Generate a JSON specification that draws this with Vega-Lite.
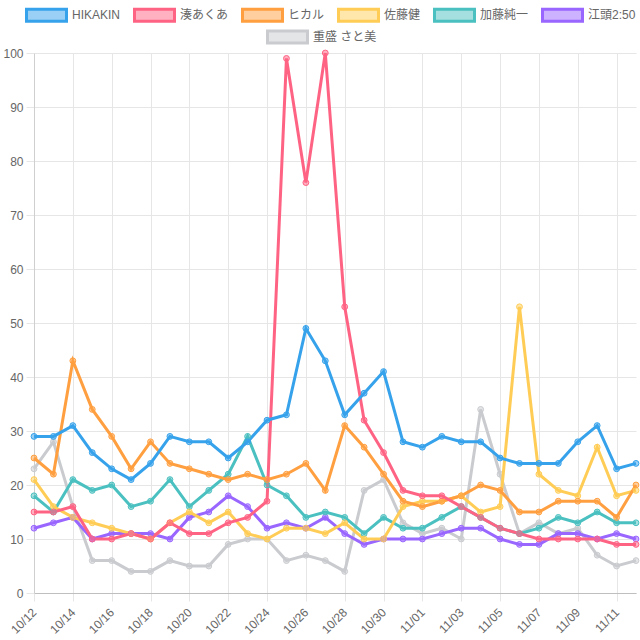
{
  "$schema": "https://vega.github.io/schema/vega-lite/v6.json",
  "width": 602,
  "height": 540,
  "autosize": {"type": "none"},
  "padding": {"left": 34, "top": 53, "right": 4, "bottom": 47},
  "background": "white",
  "data": {"values": [
    {"d":"10/12","n":"江頭2:50","v":12},{"d":"10/13","n":"江頭2:50","v":13},{"d":"10/14","n":"江頭2:50","v":14},{"d":"10/15","n":"江頭2:50","v":10},{"d":"10/16","n":"江頭2:50","v":11},{"d":"10/17","n":"江頭2:50","v":11},{"d":"10/18","n":"江頭2:50","v":11},{"d":"10/19","n":"江頭2:50","v":10},{"d":"10/20","n":"江頭2:50","v":14},{"d":"10/21","n":"江頭2:50","v":15},{"d":"10/22","n":"江頭2:50","v":18},{"d":"10/23","n":"江頭2:50","v":16},{"d":"10/24","n":"江頭2:50","v":12},{"d":"10/25","n":"江頭2:50","v":13},{"d":"10/26","n":"江頭2:50","v":12},{"d":"10/27","n":"江頭2:50","v":14},{"d":"10/28","n":"江頭2:50","v":11},{"d":"10/29","n":"江頭2:50","v":9},{"d":"10/30","n":"江頭2:50","v":10},{"d":"10/31","n":"江頭2:50","v":10},{"d":"11/01","n":"江頭2:50","v":10},{"d":"11/02","n":"江頭2:50","v":11},{"d":"11/03","n":"江頭2:50","v":12},{"d":"11/04","n":"江頭2:50","v":12},{"d":"11/05","n":"江頭2:50","v":10},{"d":"11/06","n":"江頭2:50","v":9},{"d":"11/07","n":"江頭2:50","v":9},{"d":"11/08","n":"江頭2:50","v":11},{"d":"11/09","n":"江頭2:50","v":11},{"d":"11/10","n":"江頭2:50","v":10},{"d":"11/11","n":"江頭2:50","v":11},{"d":"11/12","n":"江頭2:50","v":10},
    {"d":"10/12","n":"加藤純一","v":18},{"d":"10/13","n":"加藤純一","v":15},{"d":"10/14","n":"加藤純一","v":21},{"d":"10/15","n":"加藤純一","v":19},{"d":"10/16","n":"加藤純一","v":20},{"d":"10/17","n":"加藤純一","v":16},{"d":"10/18","n":"加藤純一","v":17},{"d":"10/19","n":"加藤純一","v":21},{"d":"10/20","n":"加藤純一","v":16},{"d":"10/21","n":"加藤純一","v":19},{"d":"10/22","n":"加藤純一","v":22},{"d":"10/23","n":"加藤純一","v":29},{"d":"10/24","n":"加藤純一","v":20},{"d":"10/25","n":"加藤純一","v":18},{"d":"10/26","n":"加藤純一","v":14},{"d":"10/27","n":"加藤純一","v":15},{"d":"10/28","n":"加藤純一","v":14},{"d":"10/29","n":"加藤純一","v":11},{"d":"10/30","n":"加藤純一","v":14},{"d":"10/31","n":"加藤純一","v":12},{"d":"11/01","n":"加藤純一","v":12},{"d":"11/02","n":"加藤純一","v":14},{"d":"11/03","n":"加藤純一","v":16},{"d":"11/04","n":"加藤純一","v":14},{"d":"11/05","n":"加藤純一","v":12},{"d":"11/06","n":"加藤純一","v":11},{"d":"11/07","n":"加藤純一","v":12},{"d":"11/08","n":"加藤純一","v":14},{"d":"11/09","n":"加藤純一","v":13},{"d":"11/10","n":"加藤純一","v":15},{"d":"11/11","n":"加藤純一","v":13},{"d":"11/12","n":"加藤純一","v":13},
    {"d":"10/12","n":"佐藤健","v":21},{"d":"10/13","n":"佐藤健","v":16},{"d":"10/14","n":"佐藤健","v":14},{"d":"10/15","n":"佐藤健","v":13},{"d":"10/16","n":"佐藤健","v":12},{"d":"10/17","n":"佐藤健","v":11},{"d":"10/18","n":"佐藤健","v":10},{"d":"10/19","n":"佐藤健","v":13},{"d":"10/20","n":"佐藤健","v":15},{"d":"10/21","n":"佐藤健","v":13},{"d":"10/22","n":"佐藤健","v":15},{"d":"10/23","n":"佐藤健","v":11},{"d":"10/24","n":"佐藤健","v":10},{"d":"10/25","n":"佐藤健","v":12},{"d":"10/26","n":"佐藤健","v":12},{"d":"10/27","n":"佐藤健","v":11},{"d":"10/28","n":"佐藤健","v":13},{"d":"10/29","n":"佐藤健","v":10},{"d":"10/30","n":"佐藤健","v":10},{"d":"10/31","n":"佐藤健","v":16},{"d":"11/01","n":"佐藤健","v":17},{"d":"11/02","n":"佐藤健","v":17},{"d":"11/03","n":"佐藤健","v":18},{"d":"11/04","n":"佐藤健","v":15},{"d":"11/05","n":"佐藤健","v":16},{"d":"11/06","n":"佐藤健","v":53},{"d":"11/07","n":"佐藤健","v":22},{"d":"11/08","n":"佐藤健","v":19},{"d":"11/09","n":"佐藤健","v":18},{"d":"11/10","n":"佐藤健","v":27},{"d":"11/11","n":"佐藤健","v":18},{"d":"11/12","n":"佐藤健","v":19},
    {"d":"10/12","n":"ヒカル","v":25},{"d":"10/13","n":"ヒカル","v":22},{"d":"10/14","n":"ヒカル","v":43},{"d":"10/15","n":"ヒカル","v":34},{"d":"10/16","n":"ヒカル","v":29},{"d":"10/17","n":"ヒカル","v":23},{"d":"10/18","n":"ヒカル","v":28},{"d":"10/19","n":"ヒカル","v":24},{"d":"10/20","n":"ヒカル","v":23},{"d":"10/21","n":"ヒカル","v":22},{"d":"10/22","n":"ヒカル","v":21},{"d":"10/23","n":"ヒカル","v":22},{"d":"10/24","n":"ヒカル","v":21},{"d":"10/25","n":"ヒカル","v":22},{"d":"10/26","n":"ヒカル","v":24},{"d":"10/27","n":"ヒカル","v":19},{"d":"10/28","n":"ヒカル","v":31},{"d":"10/29","n":"ヒカル","v":27},{"d":"10/30","n":"ヒカル","v":22},{"d":"10/31","n":"ヒカル","v":17},{"d":"11/01","n":"ヒカル","v":16},{"d":"11/02","n":"ヒカル","v":17},{"d":"11/03","n":"ヒカル","v":18},{"d":"11/04","n":"ヒカル","v":20},{"d":"11/05","n":"ヒカル","v":19},{"d":"11/06","n":"ヒカル","v":15},{"d":"11/07","n":"ヒカル","v":15},{"d":"11/08","n":"ヒカル","v":17},{"d":"11/09","n":"ヒカル","v":17},{"d":"11/10","n":"ヒカル","v":17},{"d":"11/11","n":"ヒカル","v":14},{"d":"11/12","n":"ヒカル","v":20},
    {"d":"10/12","n":"湊あくあ","v":15},{"d":"10/13","n":"湊あくあ","v":15},{"d":"10/14","n":"湊あくあ","v":16},{"d":"10/15","n":"湊あくあ","v":10},{"d":"10/16","n":"湊あくあ","v":10},{"d":"10/17","n":"湊あくあ","v":11},{"d":"10/18","n":"湊あくあ","v":10},{"d":"10/19","n":"湊あくあ","v":13},{"d":"10/20","n":"湊あくあ","v":11},{"d":"10/21","n":"湊あくあ","v":11},{"d":"10/22","n":"湊あくあ","v":13},{"d":"10/23","n":"湊あくあ","v":14},{"d":"10/24","n":"湊あくあ","v":17},{"d":"10/25","n":"湊あくあ","v":99},{"d":"10/26","n":"湊あくあ","v":76},{"d":"10/27","n":"湊あくあ","v":100},{"d":"10/28","n":"湊あくあ","v":53},{"d":"10/29","n":"湊あくあ","v":32},{"d":"10/30","n":"湊あくあ","v":26},{"d":"10/31","n":"湊あくあ","v":19},{"d":"11/01","n":"湊あくあ","v":18},{"d":"11/02","n":"湊あくあ","v":18},{"d":"11/03","n":"湊あくあ","v":16},{"d":"11/04","n":"湊あくあ","v":14},{"d":"11/05","n":"湊あくあ","v":12},{"d":"11/06","n":"湊あくあ","v":11},{"d":"11/07","n":"湊あくあ","v":10},{"d":"11/08","n":"湊あくあ","v":10},{"d":"11/09","n":"湊あくあ","v":10},{"d":"11/10","n":"湊あくあ","v":10},{"d":"11/11","n":"湊あくあ","v":9},{"d":"11/12","n":"湊あくあ","v":9},
    {"d":"10/12","n":"HIKAKIN","v":29},{"d":"10/13","n":"HIKAKIN","v":29},{"d":"10/14","n":"HIKAKIN","v":31},{"d":"10/15","n":"HIKAKIN","v":26},{"d":"10/16","n":"HIKAKIN","v":23},{"d":"10/17","n":"HIKAKIN","v":21},{"d":"10/18","n":"HIKAKIN","v":24},{"d":"10/19","n":"HIKAKIN","v":29},{"d":"10/20","n":"HIKAKIN","v":28},{"d":"10/21","n":"HIKAKIN","v":28},{"d":"10/22","n":"HIKAKIN","v":25},{"d":"10/23","n":"HIKAKIN","v":28},{"d":"10/24","n":"HIKAKIN","v":32},{"d":"10/25","n":"HIKAKIN","v":33},{"d":"10/26","n":"HIKAKIN","v":49},{"d":"10/27","n":"HIKAKIN","v":43},{"d":"10/28","n":"HIKAKIN","v":33},{"d":"10/29","n":"HIKAKIN","v":37},{"d":"10/30","n":"HIKAKIN","v":41},{"d":"10/31","n":"HIKAKIN","v":28},{"d":"11/01","n":"HIKAKIN","v":27},{"d":"11/02","n":"HIKAKIN","v":29},{"d":"11/03","n":"HIKAKIN","v":28},{"d":"11/04","n":"HIKAKIN","v":28},{"d":"11/05","n":"HIKAKIN","v":25},{"d":"11/06","n":"HIKAKIN","v":24},{"d":"11/07","n":"HIKAKIN","v":24},{"d":"11/08","n":"HIKAKIN","v":24},{"d":"11/09","n":"HIKAKIN","v":28},{"d":"11/10","n":"HIKAKIN","v":31},{"d":"11/11","n":"HIKAKIN","v":23},{"d":"11/12","n":"HIKAKIN","v":24},
    {"d":"10/12","n":"重盛 さと美","v":23},{"d":"10/13","n":"重盛 さと美","v":28},{"d":"10/14","n":"重盛 さと美","v":16},{"d":"10/15","n":"重盛 さと美","v":6},{"d":"10/16","n":"重盛 さと美","v":6},{"d":"10/17","n":"重盛 さと美","v":4},{"d":"10/18","n":"重盛 さと美","v":4},{"d":"10/19","n":"重盛 さと美","v":6},{"d":"10/20","n":"重盛 さと美","v":5},{"d":"10/21","n":"重盛 さと美","v":5},{"d":"10/22","n":"重盛 さと美","v":9},{"d":"10/23","n":"重盛 さと美","v":10},{"d":"10/24","n":"重盛 さと美","v":10},{"d":"10/25","n":"重盛 さと美","v":6},{"d":"10/26","n":"重盛 さと美","v":7},{"d":"10/27","n":"重盛 さと美","v":6},{"d":"10/28","n":"重盛 さと美","v":4},{"d":"10/29","n":"重盛 さと美","v":19},{"d":"10/30","n":"重盛 さと美","v":21},{"d":"10/31","n":"重盛 さと美","v":13},{"d":"11/01","n":"重盛 さと美","v":11},{"d":"11/02","n":"重盛 さと美","v":12},{"d":"11/03","n":"重盛 さと美","v":10},{"d":"11/04","n":"重盛 さと美","v":34},{"d":"11/05","n":"重盛 さと美","v":22},{"d":"11/06","n":"重盛 さと美","v":11},{"d":"11/07","n":"重盛 さと美","v":13},{"d":"11/08","n":"重盛 さと美","v":11},{"d":"11/09","n":"重盛 さと美","v":12},{"d":"11/10","n":"重盛 さと美","v":7},{"d":"11/11","n":"重盛 さと美","v":5},{"d":"11/12","n":"重盛 さと美","v":6}
  ]},
  "encoding": {
    "x": {
      "field": "d", "type": "ordinal",
      "scale": {"type": "point", "padding": 0, "domain": ["10/12","10/13","10/14","10/15","10/16","10/17","10/18","10/19","10/20","10/21","10/22","10/23","10/24","10/25","10/26","10/27","10/28","10/29","10/30","10/31","11/01","11/02","11/03","11/04","11/05","11/06","11/07","11/08","11/09","11/10","11/11","11/12"]},
      "axis": {
        "title": null,
        "values": ["10/12","10/14","10/16","10/18","10/20","10/22","10/24","10/26","10/28","10/30","11/01","11/03","11/05","11/07","11/09","11/11"],
        "labelAngle": -45, "labelAlign": "right", "labelBaseline": "middle",
        "labelPadding": 9, "tickSize": 8, "tickColor": "#e6e6e6",
        "grid": true, "gridColor": "#e6e6e6", "domainColor": "#bfbfbf",
        "labelFontSize": 12, "labelColor": "#666666", "labelFont": "Liberation Sans"
      }
    },
    "y": {
      "field": "v", "type": "quantitative",
      "scale": {"domain": [0, 100], "nice": false},
      "axis": {
        "title": null,
        "values": [0,10,20,30,40,50,60,70,80,90,100],
        "tickSize": 8, "tickColor": "#e6e6e6", "labelPadding": 3,
        "grid": true, "gridColor": "#e6e6e6", "domainColor": "#cfcfcf",
        "labelFontSize": 12, "labelColor": "#666666", "labelFont": "Liberation Sans"
      }
    }
  },
  "layer": [
    {
      "name": "gray",
      "transform": [{"filter": "datum.n === '重盛 さと美'"}],
      "encoding": {
        "color": {
          "field": "n", "type": "nominal",
          "scale": {"domain": ["重盛 さと美"], "range": ["rgb(201,203,207)"]},
          "legend": {
            "title": null, "orient": "none", "direction": "horizontal", "legendX": 232, "legendY": -23.5,
            "symbolType": "M-1,-1H5.667V1H-1Z", "symbolSize": 144, "symbolStrokeWidth": 3,
            "labelOffset": 32, "columnPadding": 7,
            "labelFontSize": 12, "labelColor": "#666666", "labelFont": "Liberation Sans, Noto Sans CJK JP",
            "encode": {"symbols": {"update": {
              "fill": {"scale": "gray_color", "field": "value"},
              "stroke": {"scale": "gray_color", "field": "value"},
              "fillOpacity": {"value": 0.5}, "opacity": {"value": 1}, "strokeWidth": {"value": 3}
            }}}
          }
        }
      },
      "layer": [
        {"mark": {"type": "line", "strokeWidth": 3, "strokeJoin": "miter"}},
        {"mark": {"type": "point", "shape": "circle", "filled": true, "fillOpacity": 0.5, "strokeWidth": 0, "size": 34, "opacity": 1}},
        {"mark": {"type": "point", "shape": "circle", "filled": false, "strokeWidth": 1, "size": 34, "opacity": 1}}
      ]
    },
    {
      "name": "six",
      "transform": [{"filter": "datum.n !== '重盛 さと美'"}],
      "encoding": {
        "color": {
          "field": "n", "type": "nominal",
          "scale": {"domain": ["HIKAKIN","湊あくあ","ヒカル","佐藤健","加藤純一","江頭2:50"], "range": ["rgb(54,162,235)","rgb(255,99,132)","rgb(255,159,64)","rgb(255,205,86)","rgb(75,192,192)","rgb(153,102,255)"]},
          "legend": {
            "title": null, "orient": "none", "direction": "horizontal", "legendX": -9, "legendY": -45.5,
            "symbolType": "M-1,-1H5.667V1H-1Z", "symbolSize": 144, "symbolStrokeWidth": 3,
            "labelOffset": 32, "columnPadding": 7,
            "labelFontSize": 12, "labelColor": "#666666", "labelFont": "Liberation Sans, Noto Sans CJK JP",
            "encode": {"symbols": {"update": {
              "fill": {"scale": "six_color", "field": "value"},
              "stroke": {"scale": "six_color", "field": "value"},
              "fillOpacity": {"value": 0.5}, "opacity": {"value": 1}, "strokeWidth": {"value": 3}
            }}}
          }
        }
      },
      "layer": [
        {"mark": {"type": "line", "strokeWidth": 3, "strokeJoin": "miter"}},
        {"mark": {"type": "point", "shape": "circle", "filled": true, "fillOpacity": 0.5, "strokeWidth": 0, "size": 34, "opacity": 1}},
        {"mark": {"type": "point", "shape": "circle", "filled": false, "strokeWidth": 1, "size": 34, "opacity": 1}}
      ]
    }
  ],
  "resolve": {"scale": {"color": "independent"}},
  "config": {
    "view": {"stroke": null}
  }
}
